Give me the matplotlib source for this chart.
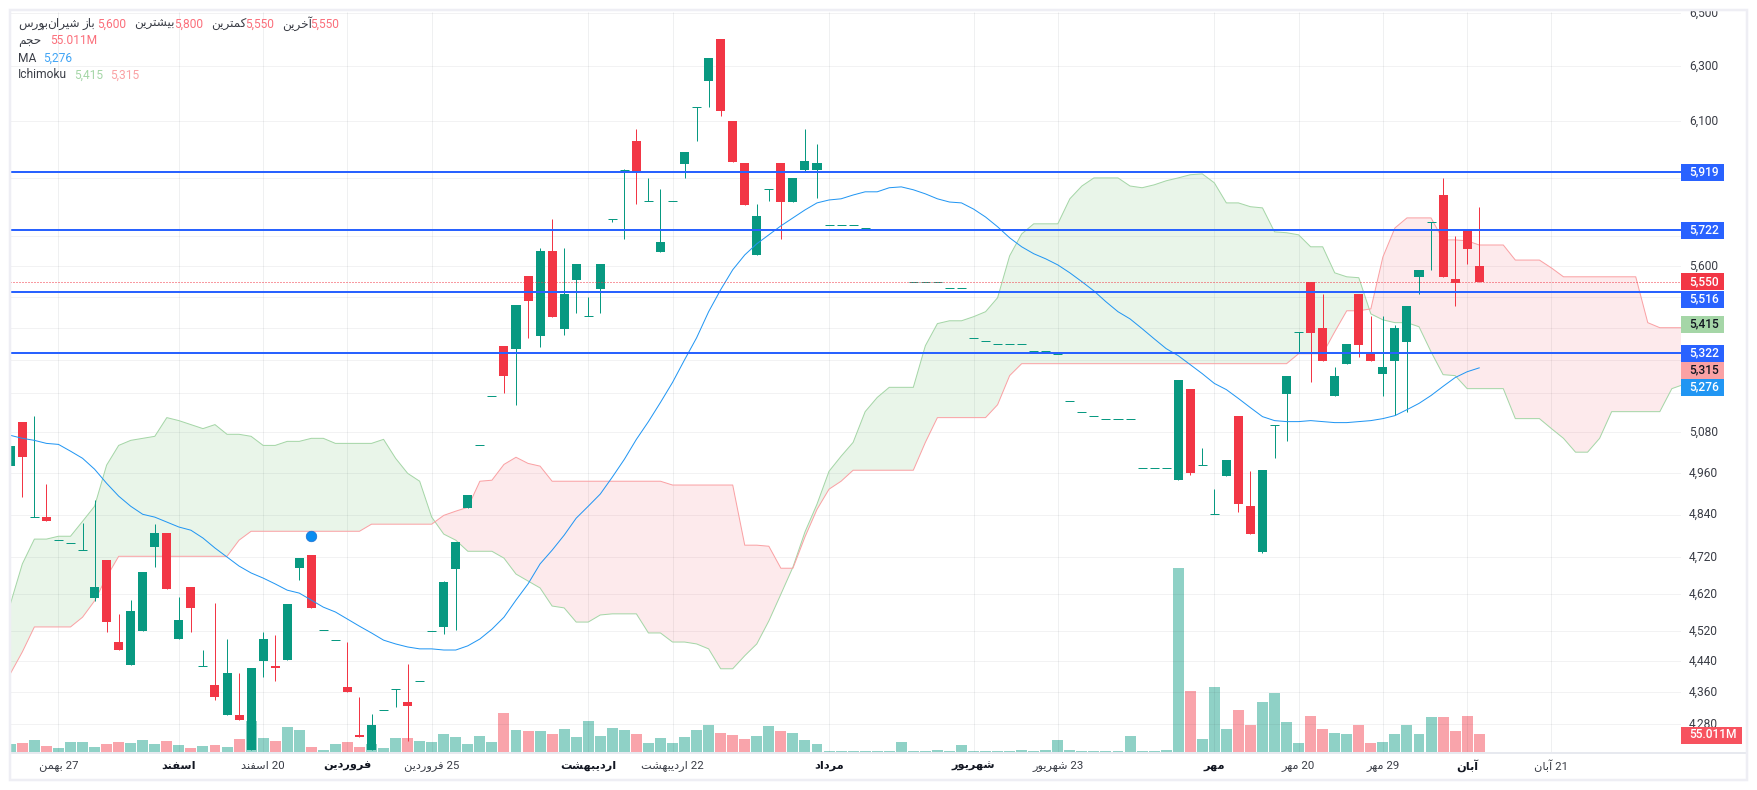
import matplotlib
matplotlib.use("Agg")
import matplotlib.pyplot as plt
from matplotlib.patches import Rectangle
import numpy as np

plt.rcParams["font.family"] = ["Roboto", "DejaVu Sans"]

# Candles (one value per session)
opens = [
    4980, 5112, 4833, 4833, 4768, 4760, 4740, 4609, 4712, 4491,
    4431, 4520, 4749, 4788, 4499, 4638, 4429, 4380, 4303, 4303,
    4214, 4442, 4429, 4444, 4690, 4726, 4523, 4496, 4375, 4253,
    4214, 4316, 4370, 4336, 4390, 4520, 4531, 4688, 4858, 5041,
    5191, 5345, 5336, 5569, 5377, 5651, 5399, 5556, 5440, 5527,
    5758, 5927, 6028, 5820, 5648, 5820, 5948, 6150, 6245, 6400,
    6100, 5951, 5638, 5861, 5951, 5816, 5927, 5927, 5738, 5738,
    5738, 5728, 5722, 5722, 5722, 5550, 5550, 5550, 5530, 5530,
    5370, 5361, 5352, 5352, 5352, 5329, 5329, 5320, 5173, 5142,
    5130, 5121, 5121, 5121, 4974, 4974, 4974, 4939, 5212, 4983,
    4841, 4951, 5130, 4864, 4735, 5103, 5197, 5389, 5550, 5402,
    5188, 5289, 5510, 5320, 5258, 5298, 5358, 5566, 5749, 5840,
    5559, 5722, 5600,
]
highs = [
    5038, 5112, 5130, 4928, 4768, 4760, 4816, 4881, 4712, 4566,
    4603, 4679, 4813, 4788, 4611, 4638, 4470, 4595, 4499, 4411,
    4424, 4518, 4510, 4592, 4718, 4726, 4523, 4496, 4491, 4349,
    4306, 4316, 4370, 4434, 4390, 4520, 4655, 4763, 4896, 5041,
    5191, 5345, 5475, 5569, 5661, 5758, 5661, 5608, 5501, 5608,
    5758, 5930, 6071, 5899, 5861, 5820, 5989, 6150, 6330, 6400,
    6100, 5951, 5810, 5861, 5951, 5899, 6071, 6018, 5738, 5738,
    5738, 5728, 5722, 5722, 5722, 5550, 5550, 5550, 5530, 5530,
    5370, 5361, 5352, 5352, 5352, 5329, 5329, 5320, 5173, 5142,
    5130, 5121, 5121, 5121, 4974, 4974, 4974, 5240, 5212, 5032,
    4913, 4997, 5130, 4965, 4968, 5103, 5252, 5389, 5550, 5510,
    5280, 5352, 5510, 5440, 5440, 5411, 5472, 5589, 5749, 5899,
    5701, 5722, 5800,
]
lows = [
    4980, 4890, 4833, 4821, 4768, 4760, 4740, 4601, 4518, 4470,
    4431, 4520, 4693, 4633, 4499, 4518, 4429, 4341, 4303, 4290,
    4214, 4400, 4390, 4444, 4657, 4582, 4523, 4496, 4360, 4248,
    4214, 4316, 4323, 4238, 4390, 4520, 4512, 4523, 4858, 5041,
    5191, 5200, 5161, 5370, 5342, 5437, 5380, 5449, 5440, 5449,
    5749, 5691, 5810, 5820, 5648, 5820, 5899, 6028, 6150, 6118,
    5955, 5806, 5638, 5820, 5691, 5816, 5920, 5830, 5738, 5738,
    5738, 5728, 5722, 5722, 5722, 5550, 5550, 5550, 5530, 5530,
    5370, 5361, 5352, 5352, 5352, 5329, 5329, 5320, 5173, 5142,
    5130, 5121, 5121, 5121, 4974, 4974, 4974, 4939, 4954, 4983,
    4841, 4951, 4847, 4785, 4732, 5003, 5053, 5322, 5231, 5298,
    5188, 5289, 5310, 5298, 5191, 5133, 5142, 5510, 5589, 5566,
    5472, 5608, 5550,
]
closes = [
    5038, 5006, 4833, 4821, 4768, 4760, 4740, 4638, 4544, 4470,
    4574, 4679, 4788, 4633, 4549, 4582, 4429, 4347, 4411, 4290,
    4424, 4499, 4424, 4592, 4718, 4582, 4523, 4496, 4360, 4248,
    4278, 4316, 4370, 4326, 4390, 4520, 4652, 4763, 4896, 5041,
    5191, 5252, 5475, 5488, 5651, 5437, 5510, 5608, 5440, 5608,
    5758, 5927, 5917, 5820, 5681, 5820, 5989, 6150, 6330, 6136,
    5955, 5806, 5769, 5861, 5816, 5899, 5958, 5951, 5738, 5738,
    5738, 5728, 5722, 5722, 5722, 5550, 5550, 5550, 5530, 5530,
    5370, 5361, 5352, 5352, 5352, 5329, 5329, 5320, 5173, 5142,
    5130, 5121, 5121, 5121, 4974, 4974, 4974, 5240, 4959, 4983,
    4841, 4997, 4870, 4785, 4968, 5103, 5252, 5389, 5386, 5298,
    5252, 5352, 5348, 5298, 5280, 5402, 5472, 5589, 5749, 5566,
    5547, 5658, 5550,
]
# Volume in millions
volumes = [
    24.5, 27.5, 36.7, 18.3, 12.2, 30.6, 30.6, 15.3, 24.4, 30.6,
    27.5, 36.7, 24.4, 33.6, 21.4, 12.2, 18.3, 21.4, 15.3, 39.7,
    94.7, 42.8, 33.6, 76.4, 67.2, 15.3, 6.1, 24.4, 30.6, 15.3,
    24.4, 12.2, 42.8, 42.8, 33.6, 30.6, 55.0, 45.8, 24.4, 48.9,
    30.6, 119.2, 67.2, 64.2, 64.2, 55.0, 70.3, 45.8, 94.7, 48.9,
    73.3, 67.2, 55.0, 27.5, 42.8, 27.5, 45.8, 67.2, 82.5, 58.1,
    52.0, 39.7, 48.9, 79.5, 64.2, 58.1, 36.7, 24.4, 3.1, 3.1,
    3.1, 3.1, 3.1, 3.1, 30.6, 3.1, 3.1, 6.1, 3.1, 21.4,
    3.1, 3.1, 3.1, 3.1, 6.1, 3.1, 6.1, 36.7, 6.1, 3.1,
    3.1, 3.1, 3.1, 48.9, 3.1, 3.1, 6.1, 565.4, 186.4, 39.7,
    198.6, 70.3, 128.4, 82.5, 152.8, 180.3, 91.7, 27.5, 110.0, 70.3,
    58.1, 55.0, 82.5, 27.5, 30.6, 55.0, 82.5, 55.0, 107.0, 107.0,
    64.2, 110.0, 55.011,
]
ma_line = [
    5071, 5062, 5056, 5047, 5044, 5024, 5003, 4971, 4930, 4893,
    4864, 4841, 4833, 4819, 4805, 4796, 4774, 4746, 4721, 4696,
    4677, 4663, 4647, 4630, 4622, 4603, 4584, 4571, 4552, 4533,
    4515, 4496, 4486, 4478, 4473, 4473, 4470, 4470, 4481, 4499,
    4525, 4557, 4603, 4647, 4702, 4740, 4782, 4830, 4864, 4899,
    4948, 5000, 5059, 5112, 5170, 5231, 5301, 5370, 5453, 5524,
    5589, 5638, 5675, 5705, 5735, 5762, 5789, 5813, 5823, 5827,
    5840, 5851, 5851, 5865, 5868, 5858, 5844, 5827, 5816, 5813,
    5792, 5765, 5732, 5695, 5665, 5642, 5625, 5605, 5579, 5550,
    5520, 5485, 5453, 5430, 5399, 5367, 5336, 5314, 5286, 5258,
    5228, 5209, 5182, 5154, 5127, 5115, 5112, 5112, 5115, 5112,
    5109, 5109, 5112, 5115, 5121, 5130, 5148, 5167, 5191, 5219,
    5246, 5264, 5276,
]
# Ichimoku spans run past the last candle
span_a = [
    4592, 4702, 4771, 4771, 4779, 4779, 4821, 4864, 4983, 5041,
    5056, 5062, 5068, 5124, 5115, 5103, 5091, 5103, 5074, 5074,
    5068, 5041, 5041, 5053, 5053, 5062, 5062, 5047, 5047, 5047,
    5047, 5059, 5003, 4959, 4936, 4833, 4785, 4768, 4737, 4737,
    4737, 4718, 4674, 4655, 4636, 4587, 4582, 4544, 4544, 4563,
    4566, 4566, 4566, 4515, 4515, 4491, 4491, 4486, 4473, 4421,
    4421, 4455, 4486, 4547, 4619, 4693, 4791, 4870, 4965, 5009,
    5050, 5142, 5185, 5216, 5216, 5216, 5345, 5415, 5424, 5424,
    5437, 5453, 5498, 5635, 5708, 5742, 5742, 5742, 5827, 5871,
    5899, 5899, 5899, 5871, 5865, 5875, 5889, 5899, 5910, 5913,
    5882, 5813, 5813, 5800, 5796, 5715, 5712, 5705, 5665, 5665,
    5579, 5566, 5563, 5446, 5427, 5418, 5418, 5405, 5326, 5255,
    5252, 5212, 5212, 5212, 5212, 5121, 5121, 5121, 5091, 5062,
    5021, 5021, 5062, 5142, 5142, 5142, 5142, 5142, 5212, 5225,
]
span_b = [
    4408, 4465, 4531, 4531, 4531, 4531, 4557, 4601, 4666, 4723,
    4723, 4723, 4723, 4723, 4723, 4723, 4723, 4723, 4723, 4768,
    4793, 4793, 4793, 4793, 4793, 4793, 4793, 4793, 4793, 4793,
    4813, 4813, 4813, 4813, 4813, 4813, 4838, 4850, 4861, 4936,
    4939, 4985, 5006, 4988, 4980, 4936, 4936, 4936, 4936, 4936,
    4936, 4936, 4936, 4936, 4936, 4925, 4925, 4925, 4925, 4925,
    4925, 4754, 4754, 4751, 4690, 4690, 4777, 4855, 4913, 4936,
    4968, 4968, 4968, 4968, 4968, 4968, 5050, 5124, 5124, 5124,
    5124, 5124, 5163, 5252, 5289, 5289, 5289, 5289, 5289, 5289,
    5289, 5289, 5289, 5289, 5289, 5289, 5289, 5289, 5289, 5289,
    5289, 5289, 5289, 5289, 5289, 5289, 5289, 5320, 5320, 5320,
    5389, 5456, 5456, 5462, 5631, 5728, 5762, 5762, 5762, 5688,
    5688, 5685, 5671, 5671, 5671, 5621, 5621, 5621, 5595, 5566,
    5566, 5566, 5566, 5566, 5566, 5566, 5418, 5402, 5402, 5402,
]
level_lines = [5919, 5722, 5516, 5322]
last_price = 5550
marker_session = 25
marker_price = 4779

grid_prices = [6500, 6300, 6100, 5900, 5700, 5600, 5500, 5400, 5300, 5200,
               5080, 4960, 4840, 4720, 4620, 4520, 4440, 4360, 4280]
# the other grid prices sit behind the coloured boxes on the scale
shown_prices = [6500, 6300, 6100, 5600, 5080, 4960, 4840, 4720, 4620, 4520,
                4440, 4360, 4280]
date_sessions = [4, 14, 21, 28, 35, 48, 55, 68, 80, 87, 100, 107, 114, 121, 128]
date_words = ["بهمن", "اسفند", "اسفند", "فروردین", "فروردین", "اردیبهشت",
              "اردیبهشت", "مرداد", "شهریور", "شهریور", "مهر", "مهر", "مهر",
              "آبان", "آبان"]
date_days = ["27", "", "20", "", "25", "", "22", "", "", "23", "", "20", "29",
             "", "21"]

GREEN = "#089981"
RED = "#f23645"
BLUE = "#2962ff"
MA_BLUE = "#2196f3"
SPAN_GREEN = "#a5d6a7"
SPAN_RED = "#faa1a4"
WIDTH, HEIGHT = 1757, 790

# isolated, final, initial, medial forms of the letters used here
FORMS = {
    "ا": "\ufe8d\ufe8e", "آ": "\ufe81\ufe82", "د": "\ufea9\ufeaa",
    "ر": "\ufead\ufeae", "ز": "\ufeaf\ufeb0", "و": "\ufeed\ufeee",
    "ب": "\ufe8f\ufe90\ufe91\ufe92", "ت": "\ufe95\ufe96\ufe97\ufe98",
    "ج": "\ufe9d\ufe9e\ufe9f\ufea0", "ح": "\ufea1\ufea2\ufea3\ufea4",
    "خ": "\ufea5\ufea6\ufea7\ufea8", "س": "\ufeb1\ufeb2\ufeb3\ufeb4",
    "ش": "\ufeb5\ufeb6\ufeb7\ufeb8", "ف": "\ufed1\ufed2\ufed3\ufed4",
    "ک": "\ufb8e\ufb8f\ufb90\ufb91", "م": "\ufee1\ufee2\ufee3\ufee4",
    "ن": "\ufee5\ufee6\ufee7\ufee8", "ه": "\ufee9\ufeea\ufeeb\ufeec",
    "ی": "\ufbfc\ufbfd\ufbfe\ufbff",
}


def fa(word):
    # matplotlib does no Arabic shaping, so pick the joined forms by hand
    # and return them in visual order.
    out = []
    for i, ch in enumerate(word):
        forms = FORMS[ch]
        joins_prev = i > 0 and len(FORMS[word[i - 1]]) == 4
        joins_next = i < len(word) - 1 and len(forms) == 4
        if joins_prev and joins_next:
            out.append(forms[3])
        elif joins_prev:
            out.append(forms[1])
        elif joins_next:
            out.append(forms[2])
        else:
            out.append(forms[0])
    return "".join(reversed(out))


def fig_x(x):
    return x / WIDTH


def fig_y(y):
    return 1 - y / HEIGHT


def label(fig, x, y, text, color="#131722", size=8.64, weight="normal",
          ha="left", zorder=6):
    fig.text(fig_x(x), fig_y(y), text, color=color, fontsize=size,
             fontweight=weight, ha=ha, va="center", zorder=zorder)


def price_tag(fig, y, text, bg, fg="white", right=1724):
    # Coloured box on the price scale, stacked so the boxes do not overlap
    fig.add_artist(Rectangle((fig_x(1681), fig_y(y + 8.5)),
                             (right - 1681) / WIDTH, 17 / HEIGHT,
                             transform=fig.transFigure, facecolor=bg,
                             edgecolor="none", zorder=5))
    label(fig, 1689, y, text, color=fg, weight="medium")


px = 1 / 100 * 72  # one pixel in points at dpi 100

fig = plt.figure(figsize=(WIDTH / 100, HEIGHT / 100), dpi=100, facecolor="white")
rect = [fig_x(10), fig_y(752), 1671 / WIDTH, 740 / HEIGHT]

ax_vol = fig.add_axes(rect, zorder=1)
ax = fig.add_axes(rect, zorder=2)
ax.patch.set_visible(False)
x_limits = (-0.025, 138.76)

# Volume pane shares the chart area, anchored on the bottom
sessions = np.arange(len(closes))
up = np.array(closes) >= np.array(opens)
ax_vol.bar(sessions, volumes, width=0.91, alpha=0.45,
           color=[GREEN if u else RED for u in up])
ax_vol.set_xlim(x_limits)
ax_vol.set_ylim(0, 2268)
ax_vol.set_axis_off()

ax.set_yscale("log")
ax.set_xlim(x_limits)
ax.set_ylim(4210, 6503)
ax.set_axis_off()

# Grid
ax.hlines(grid_prices, *x_limits, color="#2a2e39", alpha=0.06, lw=px, zorder=0)
ax.vlines(date_sessions, 4210, 6503, color="#2a2e39", alpha=0.07, lw=px, zorder=0)

# Cloud
cloud_x = np.arange(len(span_a))
a = np.array(span_a)
b = np.array(span_b)
ax.fill_between(cloud_x, a, b, where=a >= b, interpolate=True, color="#4caf50",
                alpha=0.12, lw=0, zorder=1)
ax.fill_between(cloud_x, a, b, where=a <= b, interpolate=True, color="#f23645",
                alpha=0.10, lw=0, zorder=1)
ax.plot(cloud_x, a, color=SPAN_GREEN, lw=px, zorder=2)
ax.plot(cloud_x, b, color=SPAN_RED, lw=px, zorder=2)

# Candles
for i in sessions:
    color = GREEN if up[i] else RED
    ax.vlines(i, lows[i], highs[i], color=color, lw=px, zorder=3)
    if opens[i] == closes[i]:
        ax.hlines(opens[i], i - 0.375, i + 0.375, color=color, lw=px, zorder=3)
    else:
        ax.bar(i, abs(closes[i] - opens[i]), bottom=min(opens[i], closes[i]),
               width=0.75, color=color, lw=0, zorder=3)

ax.plot(sessions, ma_line, color=MA_BLUE, lw=px, zorder=4)
ax.hlines(level_lines, *x_limits, color=BLUE, lw=2 * px, zorder=5)
ax.hlines(last_price, *x_limits, color=RED, lw=px, linestyles=(0, (1, 2)), zorder=5)
ax.plot(marker_session, marker_price, "o", ms=7.6, color="#0a8cf0",
        mec="#1c6fd0", mew=0.5, zorder=5)

# Price scale
for value in shown_prices:
    y = 66 + 1702 * np.log(6300 / value)
    label(fig, 1689, y, f"{value:,}", color="#3a3d46", zorder=4)

price_tag(fig, 172, "5,919", BLUE)
price_tag(fig, 230, "5,722", BLUE)
price_tag(fig, 282, "5,550", RED)
price_tag(fig, 299, "5,516", BLUE)
price_tag(fig, 324, "5,415", SPAN_GREEN, fg="#131722")
price_tag(fig, 353, "5,322", BLUE)
price_tag(fig, 370, "5,315", SPAN_RED, fg="#131722")
price_tag(fig, 387, "5,276", MA_BLUE)
price_tag(fig, 735, "55.011M", "#f7525f", right=1742)

# Date scale
for i, word, day in zip(date_sessions, date_words, date_days):
    x = 10.3 + 12.04 * i
    if day:
        label(fig, x, 766, f"{fa(word)} {day}", color="#3a3d46", size=8.2, ha="center")
    else:
        label(fig, x, 766, fa(word), size=8.2, weight="bold", ha="center")

# Legend block top left
TEXT_RED = "#fb6f7b"
legend_rows = [
    (18, 24, fa("بورس"), "#3a3d46"),
    (42, 24, ",", "#3a3d46"),
    (47, 24, fa("شیران"), "#3a3d46"),
    (82, 24, fa("باز"), "#3a3d46"),
    (97, 24, "5,600", TEXT_RED),
    (134, 24, fa("بیشترین"), "#3a3d46"),
    (174, 24, "5,800", TEXT_RED),
    (211, 24, fa("کمترین"), "#3a3d46"),
    (245, 24, "5,550", TEXT_RED),
    (282, 24, fa("آخرین"), "#3a3d46"),
    (310, 24, "5,550", TEXT_RED),
    (18, 41, fa("حجم"), "#3a3d46"),
    (50, 41, "55.011M", TEXT_RED),
    (18, 58, "MA", "#3a3d46"),
    (43, 58, "5,276", "#42a5f5"),
    (18, 75, "Ichimoku", "#3a3d46"),
    (74, 75, "5,415", SPAN_GREEN),
    (110, 75, "5,315", SPAN_RED),
]
for x, y, text, color in legend_rows:
    label(fig, x, y, text, color=color)

# Bottom rule, and the frame that also cuts off the top tick label
fig.add_artist(plt.Line2D([fig_x(10), fig_x(1746)], [fig_y(752.5), fig_y(752.5)],
                          color="#e0e3eb", lw=1.5 * px, zorder=7))
fig.add_artist(Rectangle((0, fig_y(9)), 1, 9 / HEIGHT, transform=fig.transFigure,
                         facecolor="white", edgecolor="none", zorder=8))
fig.add_artist(Rectangle((fig_x(10), fig_y(780)), 1737 / WIDTH, 770 / HEIGHT,
                         transform=fig.transFigure, facecolor="none",
                         edgecolor="#eeeef4", lw=2.5 * px, zorder=9))

fig.savefig("out.png", dpi=100, facecolor="white")
plt.close(fig)
